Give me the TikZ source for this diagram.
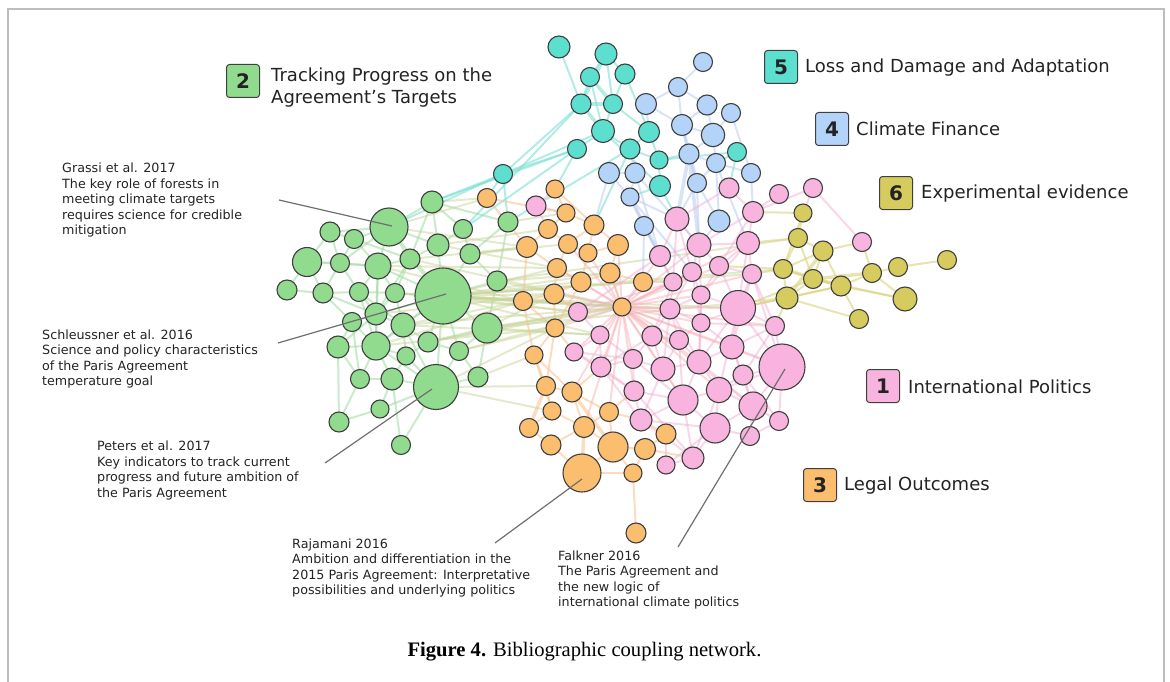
\documentclass[tikz,border=0pt]{standalone}
\usepackage{fontspec}
\setmainfont{DejaVu Sans}
\newfontfamily\capfont{Liberation Serif}
\usetikzlibrary{backgrounds}
\definecolor{pk}{HTML}{F8B4DE}
\definecolor{gn}{HTML}{90DB8E}
\definecolor{orn}{HTML}{FBBD6E}
\definecolor{bl}{HTML}{B4D3F8}
\definecolor{cy}{HTML}{5CDFCF}
\definecolor{ol}{HTML}{D5CB5E}
\definecolor{nb}{HTML}{3F3F3F}
\definecolor{tx}{HTML}{232323}
\definecolor{gE}{HTML}{9EDB9E}
\definecolor{cE}{HTML}{74DDD0}
\definecolor{bE}{HTML}{B9CCF0}
\definecolor{pE}{HTML}{F4A3CF}
\definecolor{oE}{HTML}{F8C08C}
\definecolor{yE}{HTML}{D9D27C}
\definecolor{xE}{HTML}{C8D49A}
\definecolor{hE}{HTML}{F7B2B8}
\definecolor{frm}{HTML}{BDBDBD}
\tikzset{
  nd/.style={circle,draw=nb,line width=1.1pt,inner sep=0pt,outer sep=0pt},
  edg/.style={line width=2pt,opacity=.55,line cap=round},
  lbox/.style={draw=nb,line width=1pt,rounded corners=3pt,minimum width=33pt,minimum height=33pt,inner sep=0pt,text=tx,font=\fontsize{20}{20}\selectfont\bfseries},
  ltext/.style={anchor=base west,inner sep=0pt,text=tx,font=\fontsize{18}{21.5}\selectfont},
  atext/.style={anchor=west,inner sep=0pt,text=tx,align=left,font=\fontsize{12.7}{15.5}\selectfont},
  ann/.style={draw=nb!75,line width=1.2pt}
}
\begin{document}
\begin{tikzpicture}[x=1pt,y=-1pt]
\useasboundingbox (0,0) rectangle (1170,682);
\draw[frm,line width=2pt] (8,690) -- (8,9) -- (1164,9) -- (1164,690);

% ---------------- nodes ----------------
\foreach \n/\x/\y/\r in {g1/432/202/11, g2/389/227/19, g3/330/232/10, g4/354/239/9.5, g5/463/229/9.5, g6/508/222/10, g7/438/245/11, g8/470/254/10, g9/307/262/14.5, g10/340/263/9.5, g11/378/266/13, g12/410/259/10, g13/443/296/28, g14/497/281/10, g15/287/290/10, g16/323/293/10, g17/359/292/9.5, g18/395/293/9.5, g19/376/314/11, g20/352/322/9.5, g21/403/325/12, g22/487/328/15, g23/338/347/11, g24/376/346/14, g25/428/342/10, g26/406/356/9, g27/459/351/9.5, g28/360/379/9.5, g29/392/379/11, g30/436/387/22.5, g31/478/377/10, g32/380/409/9, g33/339/422/10, g34/401/445/9.5}
  \node[nd,fill=gn,minimum size={2*\r*1pt}] (\n) at (\x,\y) {};
\foreach \n/\x/\y/\r in {c1/559/47/11, c2/606/54/11, c3/590/77/9.5, c4/625/74/10, c5/581/104/10, c6/613/104/9.5, c7/603/131/11.5, c8/577/149/9.5, c9/503/174/9.5, c10/649/132/10.5, c11/630/149/10, c12/659/160/9, c13/660/186/10.5, c14/737/152/9.5}
  \node[nd,fill=cy,minimum size={2*\r*1pt}] (\n) at (\x,\y) {};
\foreach \n/\x/\y/\r in {b1/703/62/9.5, b2/678/87/9.5, b3/646/104/10.5, b4/707/105/10, b5/731/113/9.5, b6/682/125/10.5, b7/713/135/11.7, b8/689/154/10, b9/716/163/9.5, b10/751/173/9.5, b11/609/173/10.5, b12/635/173/10, b13/630/197/9, b14/697/183/9.5, b15/644/226/9.5, b16/719/221/11}
  \node[nd,fill=bl,minimum size={2*\r*1pt}] (\n) at (\x,\y) {};
\foreach \n/\x/\y/\r in {p1/729/188/10, p2/779/194/9.5, p3/813/188/9.5, p4/753/212/10.5, p5/536/206/10, p6/677/219/12, p7/660/256/10.5, p8/699/245/12, p9/748/243/11.5, p10/692/272/9.5, p11/719/266/9.5, p12/752/274/9.5, p13/673/282/9, p14/701/295/9, p15/738/308/17.5, p16/578/312/9.5, p17/670/309/10, p18/600/335/9, p19/652/336/10, p20/679/340/9.5, p21/701/323/9, p22/775/326/9.5, p23/574/352/9, p24/633/359/9.5, p25/663/369/12, p26/699/362/12, p27/732/347/12, p28/601/367/10, p29/782/367/23, p30/743/375/10, p31/634/391/10, p32/683/400/15, p33/719/390/12.7, p34/753/406/14, p35/641/420/11, p36/715/428/15, p37/779/421/9.5, p38/750/436/9.5, p39/693/458/11, p40/666/465/9, p41/862/242/9.5}
  \node[nd,fill=pk,minimum size={2*\r*1pt}] (\n) at (\x,\y) {};
\foreach \n/\x/\y/\r in {o1/487/198/9.5, o2/555/189/9, o3/566/213/9, o4/548/229/9.5, o5/594/225/10, o6/527/247/10.5, o7/568/244/9.5, o8/618/245/10.5, o9/588/253/9, o10/557/268/9.5, o11/581/282/10, o12/610/273/10, o13/643/282/9.5, o14/523/301/9.5, o15/554/294/10, o16/622/307/9, o17/555/328/9, o18/534/355/9, o19/546/386/9.5, o20/572/392/10, o21/552/411/9, o22/609/412/9.5, o23/529/428/9.5, o24/584/427/10.5, o25/666/434/10, o26/551/445/10, o27/613/447/15, o28/645/449/10.5, o29/582/473/19, o30/633/473/9, o31/636/533/10}
  \node[nd,fill=orn,minimum size={2*\r*1pt}] (\n) at (\x,\y) {};
\foreach \n/\x/\y/\r in {y1/803/213/9, y2/798/238/9.5, y3/823/251/10, y4/783/269/9.5, y5/813/279/9.5, y6/841/286/10, y7/872/273/9.5, y8/898/267/9.5, y9/947/260/9.5, y10/905/299/12, y11/787/298/11, y12/859/319/9.5}
  \node[nd,fill=ol,minimum size={2*\r*1pt}] (\n) at (\x,\y) {};

% ---------------- edges ----------------
\begin{scope}[on background layer]
\foreach \a/\b in {g1/g2, g1/g5, g1/g7, g1/g6, g2/g4, g2/g7, g2/g11, g2/g12, g2/g13, g3/g4, g4/g11, g3/g10, g9/g10, g9/g16, g10/g11, g11/g12, g11/g13, g11/g18, g11/g19, g12/g13, g7/g13, g8/g13, g5/g8, g6/g8, g13/g14, g13/g18, g13/g21, g13/g22, g13/g25, g13/g19, g13/g24, g13/g27, g13/g30, g15/g16, g16/g17, g17/g18, g17/g19, g18/g19, g19/g20, g19/g21, g20/g23, g21/g24, g21/g25, g24/g23, g24/g26, g24/g29, g25/g26, g26/g30, g27/g30, g22/g27, g29/g30, g28/g29, g30/g31, g30/g32, g32/g33, g30/g34, g29/g32, g23/g28, g24/g28, g16/g19, g10/g17, g9/g11, g11/g24, g19/g24, g21/g30, g31/g22, g14/g22, g20/g24, g12/g7, g4/g10, g17/g24, g18/g21, g1/g12, g5/g7, g6/g14, g8/g14, g3/g9, g9/g15, g10/g16, g16/g20, g20/g28, g23/g33, g28/g33, g29/g34, g26/g29, g25/g27, g22/g25, g21/g26, g19/g23, g18/g12, g27/g31, g2/g3, g4/g12, g11/g17, g2/g10, g12/g19, g17/g21, g24/g30}
  \draw[edg,gE] (\a) -- (\b);
\foreach \a/\b in {g13/o10, g13/o15, g13/p16, g13/y4, g13/p15, g14/o16, g22/o16, g22/p18, g13/o11, g8/o6, g7/o4, g6/o3, g1/o1, g2/o1, g31/o18, g30/o19, g22/y11, g13/p12, g14/y2, g27/o17, g25/p16, g21/o14, g13/o14, g13/o12, g24/o17, g30/o21, g11/o10, g19/o15, g12/o6, g18/p16, g21/p18, g13/p18, g13/p17, g13/o13, g22/p16, g22/o15, g14/o12, g8/o7, g7/o10, g27/o16, g25/o16, g21/o16, g12/o16, g18/o16, g11/o14, g2/o6, g30/o17, g24/o14}
  \draw[edg,xE,opacity=.5] (\a) -- (\b);
\draw[edg,xE,line width=3.5pt] (g13) -- (o16);
\foreach \a/\b in {c1/c5, c2/c3, c2/c4, c2/c6, c3/c5, c4/c6, c4/c10, c6/c7, c6/c10, c7/c8, c7/c11, c7/c13, c8/c9, c5/c9, c7/c9, c9/g1, c9/g2, c9/g6, c9/o1, c10/c11, c11/c12, c12/c13, c10/c12, c12/c14, c11/g6, c5/g5, c8/g5, c13/p6, c12/b8, c14/b9, c14/p1, c3/c7, c8/o2, c11/o5, c8/g1, c13/b13}
  \draw[edg,cE] (\a) -- (\b);
\foreach \a/\b in {c2/c5, c5/c6, c5/c7, c3/c6}
  \draw[edg,cE,line width=3.4pt] (\a) -- (\b);
\foreach \a/\b in {b1/b2, b2/b3, b2/b6, b2/b4, b3/b6, b3/c10, b4/b6, b4/b7, b5/b7, b6/b7, b6/b8, b7/b8, b7/b9, b8/b9, b8/b14, b9/b10, b9/b14, b11/b12, b11/b13, b12/b13, b13/b15, b14/b16, b16/b9, b12/c11, b14/p6, b13/p6, b12/p7, b15/p7, b16/p8, b14/p8, b9/p9, b10/p4, b11/o5, b15/o13, b15/p13, b13/p10, b12/p8, b10/b5}
  \draw[edg,bE] (\a) -- (\b);
\foreach \a/\b in {b8/p6, b13/p7, b8/p8, b6/b14}
  \draw[edg,bE,line width=3.6pt] (\a) -- (\b);
\foreach \a/\b in {p1/p4, p1/p6, p2/p4, p3/p4, p3/y1, p4/p9, p4/p8, p5/o3, p5/o4, p5/o2, p6/p7, p6/p8, p7/p8, p7/p13, p8/p9, p8/p10, p8/p11, p9/p11, p9/p12, p10/p13, p10/p14, p11/p12, p11/p15, p12/p15, p13/p17, p14/p15, p14/p21, p15/p22, p15/p27, p15/p21, p16/p18, p17/p19, p17/p20, p18/p23, p18/p24, p19/p24, p19/p25, p20/p21, p20/p26, p21/p27, p22/p29, p23/p28, p24/p25, p25/p26, p25/p32, p26/p27, p26/p33, p27/p29, p27/p30, p28/p31, p29/p30, p29/p34, p30/p33, p31/p32, p31/p35, p32/p33, p32/p36, p33/p34, p33/p36, p34/p37, p34/p38, p35/p39, p36/p38, p36/p39, p39/p40, p29/p37, p41/p3, p15/p29, p15/p26, p12/p22, p28/p35, p24/p31, p17/p25, p19/p20, p13/p16, p7/p16, p23/p31, p18/p28, p32/p35, p40/o25, p26/p34, p21/p26, p20/p32, p14/p17, p27/p34, p30/p34, p25/p35, p19/p28, p6/p10, p9/p15, p4/p11, p13/p19, p10/p17, p11/p14, p12/p27, p22/p27, p22/p30, p29/p33, p30/p37, p34/p36, p35/p36, p31/p39, p33/p39, p24/p32, p23/p24, p28/p24, p17/p26, p14/p26, p21/p22, p10/p21, p8/p14, p6/p13, p9/p14, p12/p29, p37/p38, p36/p40, p32/p39, p15/p33, p20/p25, p17/p21, p26/p32}
  \draw[edg,pE,opacity=.45] (\a) -- (\b);
\foreach \a/\b in {o16/p7, o16/p13, o16/p17, o16/p19, o16/p18, o16/p24, o16/p25, o16/p15, o16/p10, o16/p14, o16/p20, o16/p28, o16/p31, o16/p32, o16/p11, o16/p26, o16/p29, o16/p27, o16/o12, o16/o13, o16/o8, o16/o11, o16/o17, o16/o22, o16/o24, o16/o20, o16/o9, o16/p21, o16/p12, o16/p22, o16/p33, o16/p23, o16/p16, o16/o15, o16/p9, o16/p8, o16/p34, o16/o7, o16/o10}
  \draw[edg,hE,opacity=.5] (\a) -- (\b);
\foreach \a/\b in {o2/o3, o3/o4, o3/o5, o4/o6, o4/o7, o5/o7, o5/o8, o5/o9, o6/o10, o7/o9, o7/o10, o8/o9, o8/o12, o9/o11, o10/o11, o10/o15, o11/o12, o11/o15, o12/o13, o12/o16, o14/o15, o14/o17, o15/o17, o17/o18, o17/o19, o18/o19, o18/o20, o19/o20, o19/o21, o20/o22, o20/o24, o21/o23, o21/o24, o22/o24, o22/o27, o23/o26, o24/o26, o24/o27, o26/o29, o27/o28, o27/o29, o27/o30, o28/o30, o25/o28, o25/p35, o30/o31, o28/p39, o22/p35, o20/p28, o22/p31, o17/p23, o15/p16, o13/p13, o6/o14, o1/o6, o1/o3, o2/o5, o14/o18, o29/o30, o18/o21, o11/o17}
  \draw[edg,oE] (\a) -- (\b);
\foreach \a/\b in {o24/o29, o19/o23, o20/o27}
  \draw[edg,oE,line width=3.4pt] (\a) -- (\b);
\foreach \a/\b in {y1/y2, y1/y4, y2/y3, y2/y4, y2/y5, y3/y4, y3/y5, y3/y6, y4/y5, y4/y11, y5/y6, y5/y11, y5/y10, y6/y7, y6/y10, y6/y12, y7/y8, y8/y9, y11/y12, y11/y6, y10/y7, y4/p12, y11/p15, y2/p9, y1/p4, y11/p22, y5/p15, y3/p41, y6/p15, p41/y7, y4/p11}
  \draw[edg,yE,opacity=.6] (\a) -- (\b);
\foreach \a/\b in {y4/y6, y5/y7, y3/y11}
  \draw[edg,yE,opacity=.6,line width=3.4pt] (\a) -- (\b);
\end{scope}

% ---------------- legend ----------------
\node[lbox,fill=gn] (k2) at (243,81) {2};
\node[ltext,anchor=west,align=left] (t2) at (271,87.7) {Tracking Progress on the\\Agreement’s Targets};
\node[lbox,fill=cy] (k5) at (781,67) {5};
\node[ltext] (t5) at (805,72.5) {Loss and Damage and Adaptation};
\node[lbox,fill=bl] (k4) at (832,129) {4};
\node[ltext] (t4) at (856,135.5) {Climate Finance};
\node[lbox,fill=ol] (k6) at (896,193) {6};
\node[ltext] (t6) at (921,198.5) {Experimental evidence};
\node[lbox,fill=pk] (k1) at (883,386) {1};
\node[ltext] (t1) at (908,393) {International Politics};
\node[lbox,fill=orn] (k3) at (820,485) {3};
\node[ltext] (t3) at (844,490.5) {Legal Outcomes};

% ---------------- annotations ----------------
\node[atext] (aG) at (62,200) {Grassi et al. 2017\\The key role of forests in\\meeting climate targets\\requires science for credible\\mitigation};
\node[atext] (aS) at (42,359.2) {Schleussner et al. 2016\\Science and policy characteristics\\of the Paris Agreement\\temperature goal};
\node[atext] (aP) at (97,470.6) {Peters et al. 2017\\Key indicators to track current\\progress and future ambition of\\the Paris Agreement};
\node[atext] (aR) at (292,568.2) {Rajamani 2016\\Ambition and differentiation in the\\2015 Paris Agreement: Interpretative\\possibilities and underlying politics};
\node[atext] (aF) at (558,580) {Falkner 2016\\The Paris Agreement and\\the new logic of\\international climate politics};

\coordinate (gA) at (279,200); \coordinate (gB) at (392,226);
\coordinate (sA) at (278,343); \coordinate (sB) at (446,294);
\coordinate (pA) at (325,463); \coordinate (pB) at (432,389);
\coordinate (rA) at (495,543); \coordinate (rB) at (582,479);
\coordinate (fA) at (678,547); \coordinate (fB) at (785,369);
\draw[ann] (gA) -- (gB);
\draw[ann] (sA) -- (sB);
\draw[ann] (pA) -- (pB);
\draw[ann] (rA) -- (rB);
\draw[ann] (fA) -- (fB);

\node[anchor=base,inner sep=0pt,font=\capfont\fontsize{20.6}{24}\selectfont] (cap) at (584.5,656) {\textbf{Figure 4.} Bibliographic coupling network.};
\end{tikzpicture}
\end{document}
